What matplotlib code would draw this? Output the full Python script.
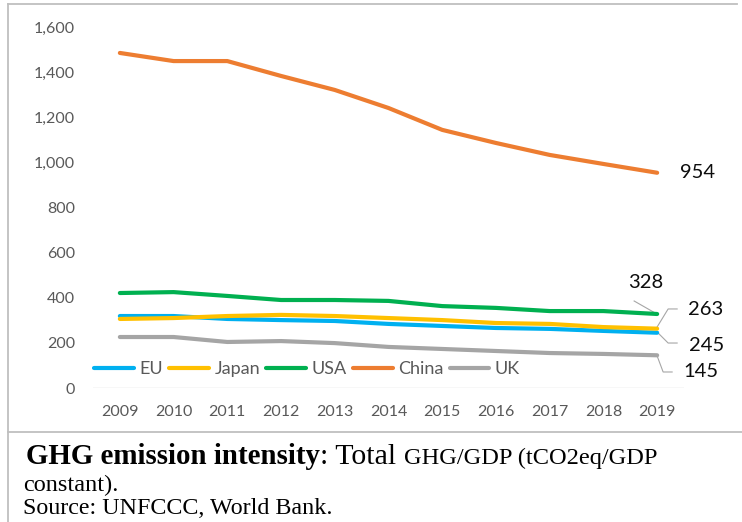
import matplotlib
matplotlib.use("Agg")
import matplotlib.pyplot as plt
from matplotlib.lines import Line2D
import numpy as np

# GHG emission intensity by economy (tCO2eq per constant GDP)
years = [2009, 2010, 2011, 2012, 2013, 2014, 2015, 2016, 2017, 2018, 2019]
eu = [319, 319, 306, 301, 297, 284, 275, 266, 262, 253, 245]
japan = [306, 310, 319, 324, 319, 310, 301, 288, 284, 270, 263]
usa = [421, 425, 408, 390, 390, 386, 363, 355, 341, 341, 328]
china = [1485, 1449, 1449, 1383, 1321, 1241, 1144, 1086, 1033, 993, 954]
uk = [226, 226, 204, 208, 199, 182, 173, 164, 155, 151, 145]

series_names = ["EU", "Japan", "USA", "China", "UK"]
series_values = [eu, japan, usa, china, uk]
series_colors = ["#00B0F0", "#FFC000", "#00B050", "#ED7D31", "#A5A5A5"]
y_ticks = [0, 200, 400, 600, 800, 1000, 1200, 1400, 1600]

W, H, DPI = 742, 522, 100
fig = plt.figure(figsize=(W / DPI, H / DPI), dpi=DPI)
fig.patch.set_facecolor("white")

def fx(px):
    return px / W

def fy(py):
    return 1 - py / H

ax = fig.add_axes([fx(93), fy(388), fx(684) - fx(93), fy(27) - fy(388)])
for s in ax.spines.values():
    s.set_visible(False)
ax.set_xlim(2008.5, 2019.5)
ax.set_ylim(0, 1600)
ax.axhline(0, color="#D9D9D9", lw=1.0, zorder=1)

tick_font = dict(family="Lato", size=11.5, color="#595959")
ax.set_yticks(y_ticks)
ax.set_yticklabels([f"{v:,}" for v in y_ticks], **tick_font)
ax.set_xticks(years)
ax.set_xticklabels([str(y) for y in years], **tick_font)
ax.tick_params(axis="both", length=0)
ax.tick_params(axis="y", pad=13)
ax.tick_params(axis="x", pad=12)

handles = {}
for name, vals, col in zip(series_names, series_values, series_colors):
    (ln,) = ax.plot(years, vals, color=col, lw=3.0, solid_capstyle="round",
                    solid_joinstyle="round", zorder=3)
    handles[name] = ln

leg = ax.legend([handles[n] for n in series_names], series_names,
                loc="center", bbox_to_anchor=((307 - 93) / 591, (388 - 369) / 361),
                ncol=5, frameon=False, handlelength=2.2, handletextpad=0.3,
                columnspacing=0.35, prop=dict(family="Lato", size=13))
for t in leg.get_texts():
    t.set_color("#595959")
for lh in leg.get_lines():
    lh.set_linewidth(3.0)

# End-of-line value labels with leader lines (offsets in pixels)
fig.canvas.draw()
inv = ax.transData.inverted()
last = years[-1]
label_font = dict(family="Lato", size=14.5, color="#0D0D0D")

def px_to_data(base, dx, dy):
    bx, by = ax.transData.transform(base)
    return inv.transform((bx + dx, by + dy))

labels = [
    (china[-1], (23, 0), "left", []),
    (usa[-1], (-11, 31), "center", [(-2, 1), (-23, 13)]),
    (japan[-1], (31, 18.7), "left", [(0, 1.7), (11, 19.7), (20, 19.7)]),
    (eu[-1], (32, -12.3), "left", [(1, -0.3), (11, -10.3), (20, -10.3)]),
    (uk[-1], (26, -16.7), "left", [(0, -0.7), (6, -16.7), (15, -16.7)]),
]
for val, (dx, dy), ha, leader in labels:
    tx, ty = px_to_data((last, val), dx, dy)
    ax.text(tx, ty, f"{val}", ha=ha, va="center", clip_on=False, **label_font)
    if leader:
        pts = np.array([px_to_data((last, val), lx, ly) for lx, ly in leader])
        ax.plot(pts[:, 0], pts[:, 1], color="#A6A6A6", lw=0.8, zorder=2,
                clip_on=False)

# Frame lines around the chart block
border = "#BFBFBF"
fig.add_artist(Line2D([fx(8), fx(8)], [fy(4), fy(522)], color=border, lw=1.3,
                      transform=fig.transFigure))
fig.add_artist(Line2D([fx(8), fx(737)], [fy(4), fy(4)], color=border, lw=1.3,
                      transform=fig.transFigure))
fig.add_artist(Line2D([fx(8), fx(742)], [fy(432), fy(432)], color=border, lw=1.3,
                      transform=fig.transFigure))

# Caption below the chart
serif = "Liberation Serif"
renderer = fig.canvas.get_renderer()
x = fx(26)
parts = [
    ("GHG emission intensity", "bold", 20.8),
    (": Total ", "normal", 21.5),
    ("GHG/GDP (tCO2eq/GDP", "normal", 17.6),
]
for txt, weight, size in parts:
    t = fig.text(x, fy(464), txt, family=serif, weight=weight, size=size,
                 color="black", ha="left", va="baseline")
    bb = t.get_window_extent(renderer=renderer)
    x = bb.x1 / W
fig.text(fx(23), fy(491), "constant).", family=serif, size=17.5, color="black",
         ha="left", va="baseline")
fig.text(fx(23), fy(514), "Source: UNFCCC, World Bank.", family=serif, size=17.3,
         color="black", ha="left", va="baseline")

fig.savefig("out.png", dpi=DPI, facecolor="white")
